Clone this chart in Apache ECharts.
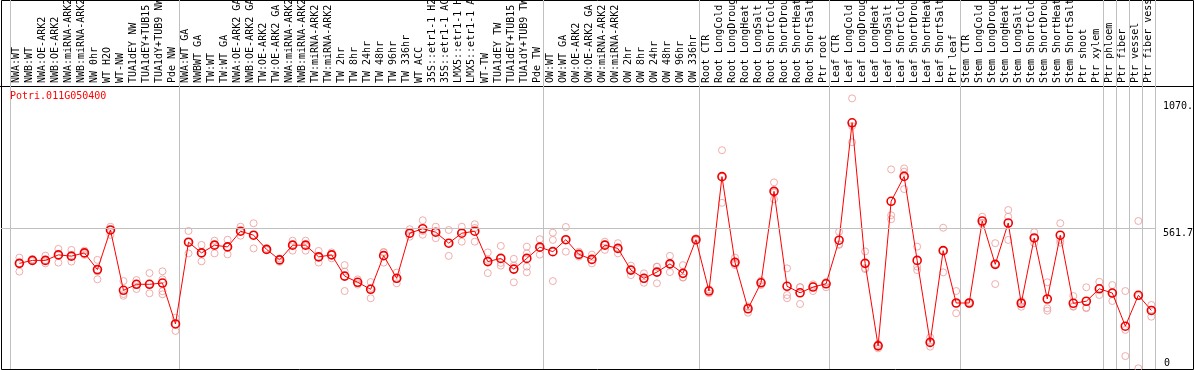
<!DOCTYPE html>
<html><head><meta charset="utf-8">
<script src="https://cdn.jsdelivr.net/npm/echarts@6/dist/echarts.min.js"></script>
<style>html,body{margin:0;padding:0;background:#fff}#c{width:1194px;height:370px}</style>
</head><body><div id="c"></div>
<script>
const chartTitle = "Potri.011G050400";

const categories = [
  "NWA:WT","NWB:WT","NWA:OE-ARK2","NWB:OE-ARK2","NWA:miRNA-ARK2","NWB:miRNA-ARK2","NW 0hr","WT H2O","WT-NW","TUA1dEY NW","TUA1dEY+TUB15 NW","TUA1dY+TUB9 NW","Pde NW",
  "NWA:WT GA","NWBWT GA","TW:WT","TW:WT GA","NWA:OE-ARK2 GA","NWB:OE-ARK2 GA","TW:OE-ARK2","TW:OE-ARK2 GA","NWA:miRNA-ARK2","NWB:miRNA-ARK2","TW:miRNA-ARK2","TW:miRNA-ARK2","TW 2hr","TW 8hr","TW 24hr","TW 48hr","TW 96hr","TW 336hr","WT ACC","35S::etr1-1 H2O","35S::etr1-1 ACC","LMX5::etr1-1 H2O","LMX5::etr1-1 ACC","WT-TW","TUA1dEY TW","TUA1dEY+TUB15 TW","TUA1dY+TUB9 TW","Pde TW",
  "OW:WT","OW:WT GA","OW:OE-ARK2","OW:OE-ARK2 GA","OW:miRNA-ARK2","OW:miRNA-ARK2","OW 2hr","OW 8hr","OW 24hr","OW 48hr","OW 96hr","OW 336hr",
  "Root CTR","Root LongCold","Root LongDrought","Root LongHeat","Root LongSalt","Root ShortCold","Root ShortDrought","Root ShortHeat","Root ShortSalt","Ptr root",
  "Leaf CTR","Leaf LongCold","Leaf LongDrought","Leaf LongHeat","Leaf LongSalt","Leaf ShortCold","Leaf ShortDrought","Leaf ShortHeat","Leaf ShortSalt","Ptr leaf",
  "Stem CTR","Stem LongCold","Stem LongDrought","Stem LongHeat","Stem LongSalt","Stem ShortCold","Stem ShortDrought","Stem ShortHeat","Stem ShortSalt","Ptr shoot","Ptr xylem",
  "Ptr phloem","Ptr fiber","Ptr vessel","Ptr fiber vessel"
];

// number of categories in each separated block
const groupSizes = [13, 28, 12, 10, 10, 11, 1, 1, 1, 1];

// mean expression per category (line + dark circles)
const means = [
  421,433,433,455,450,463,396,555,313,337,337,342,178,
  506,463,494,487,550,534,477,435,494,494,447,455,370,345,317,452,361,542,560,546,502,542,550,428,441,398,441,486,
  468,516,457,437,494,481,394,361,386,419,381,516,
  310,769,425,239,343,710,329,303,326,339,
  514,985,421,90,670,770,433,104,472,262,
  262,591,417,583,261,523,278,534,261,269,319,
  302,169,293,232
];

// individual replicate values per category (light circles)
const replicates = [
  [444,421,388],[437,433,430],[452,434,421],[479,455,424],[475,450,428],[472,461,455],[435,388,357],[568,555,535],[350,298,291],[354,337,318],[382,338,301],[389,357,309,297],[203,178,150],
  [551,506,461],[495,463,429],[512,495,461],[516,487,457],[568,550,532],[582,535,481],[481,476,475],[441,435,427],[512,495,472],[512,492,472],[471,447,424],[465,455,441],[414,388,310],[357,341,336],[346,322,281],[467,465,424],[384,358,341],[558,539,528],[594,551,536],[568,547,522],[555,503,451],[568,547,508],[578,563,508],[465,435,382],[491,423,412],[439,412,345],[488,461,408,385],[518,483,456],
  [544,515,350],[567,515,468],[468,457,448],[456,435,421],[508,497,475],[502,481,461],[412,396,374],[381,358,343],[408,407,341],[451,416,386],[414,365,364],[522,515,512],
  [317,312,301],[875,768,664],[444,419,414],[248,247,223],[352,344,334],[746,705,678],[401,294,281],[326,325,258],[337,330,310],[346,345,325],
  [548,498,495],[1083,972,907],[469,402,398],[98,92,80],[798,614,598],[802,789,719],[488,408,394],[124,106,87],[564,472,385],[310,260,221],
  [266,262,258],[608,583,581],[502,419,338],[635,608,515],[270,266,247],[546,523,502],[345,241,231],[582,515,504],[290,249,247],[325,244,241],[347,320,294],
  [334,302,270],[310,154,49],[591,290,0],[254,235,207]
];

const yTickValues = [561.7, 1070];
const yTickLabels = ["561.7", "1070."];
const yZeroValue = 0;
const yZeroLabel = "0";

// ---- layout / style ----
const FONT = "'DejaVu Sans Mono', monospace";
const PT_POS = 0.72;          // position of a point inside its category cell
const Y_MIN = -2.8, Y_MAX = 1132.6;
const X_MIN = -9 / (1145 / 88);

const groupStarts = [];
groupSizes.reduce((acc, n) => { groupStarts.push(acc); return acc + n; }, 0);

const meanData = means.map((v, i) => [i + PT_POS, v]);
const repData = [];
replicates.forEach((arr, i) => arr.forEach(v => repData.push([i + PT_POS, v])));

const chart = echarts.init(document.getElementById('c'), null, {renderer: 'canvas'});
chart.setOption({
  animation: false,
  backgroundColor: '#ffffff',
  title: {
    text: chartTitle, left: 10, top: 91, padding: 0, z: 10,
    textStyle: {color: '#ff0000', fontSize: 10, fontWeight: 'normal', fontFamily: FONT}
  },
  grid: [
    {left: 1, right: 39, top: 86, bottom: 1, containLabel: false, outerBoundsMode: 'none'},
    {left: 10, right: 39, top: 0, bottom: 1, containLabel: false, outerBoundsMode: 'none'}
  ],
  xAxis: [
    {type: 'value', gridIndex: 0, min: X_MIN, max: 88, show: false},
    {
      type: 'category', gridIndex: 1, position: 'top', offset: -86,
      data: categories, boundaryGap: true,
      axisLine: {show: false}, axisTick: {show: false},
      axisLabel: {
        interval: 0, rotate: 90, margin: 3, color: '#000',
        fontSize: 10, fontFamily: FONT, hideOverlap: false
      },
      splitLine: {
        show: true,
        interval: (idx) => groupStarts.indexOf(idx) >= 0,
        lineStyle: {color: '#c0c0c0', width: 1}
      }
    }
  ],
  yAxis: [
    {
      type: 'value', gridIndex: 0, position: 'right', min: Y_MIN, max: Y_MAX,
      axisLine: {show: false}, axisTick: {show: false}, splitLine: {show: false},
      axisLabel: {
        customValues: yTickValues, margin: 8, verticalAlign: 'top', color: '#000',
        fontSize: 10, fontFamily: FONT,
        formatter: (v) => yTickLabels[yTickValues.indexOf(v)] || ''
      }
    },
    {
      type: 'value', gridIndex: 0, position: 'right', min: Y_MIN, max: Y_MAX,
      axisLine: {show: false}, axisTick: {show: false}, splitLine: {show: false},
      axisLabel: {
        customValues: [yZeroValue], margin: 9, verticalAlign: 'bottom', color: '#000',
        fontSize: 10, fontFamily: FONT,
        formatter: () => yZeroLabel
      }
    },
    {type: 'value', gridIndex: 1, show: false}
  ],
  series: [
    {
      type: 'scatter', xAxisIndex: 0, yAxisIndex: 0, data: repData,
      symbol: 'circle', symbolSize: 7, silent: true,
      itemStyle: {color: 'rgba(0,0,0,0)', borderColor: '#ee9898', borderWidth: 1}
    },
    {
      type: 'line', xAxisIndex: 0, yAxisIndex: 0, data: meanData,
      symbol: 'circle', symbolSize: 8, showAllSymbol: true, silent: true,
      lineStyle: {color: '#ff0000', width: 1},
      itemStyle: {color: 'rgba(0,0,0,0)', borderColor: '#ee0000', borderWidth: 1.6},
      markLine: {
        silent: true, symbol: 'none', label: {show: false},
        lineStyle: {color: '#c0c0c0', type: 'solid', width: 1},
        data: [{yAxis: yTickValues[0]}]
      },
      z: 3
    }
  ],
  graphic: [
    {type: 'rect', shape: {x: 1.5, y: 0.5, width: 1192, height: 369}, style: {fill: null, stroke: '#000', lineWidth: 1}, silent: true},
    {type: 'line', shape: {x1: 0, y1: 86.5, x2: 1194, y2: 86.5}, style: {stroke: '#000', lineWidth: 1}, silent: true}
  ]
});
</script>
</body></html>
